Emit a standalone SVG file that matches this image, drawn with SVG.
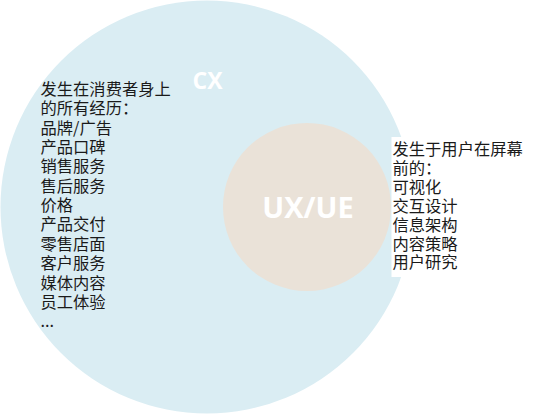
<svg xmlns="http://www.w3.org/2000/svg" width="534" height="414" viewBox="0 0 534 414">
<style>
.lbl{font-family:"Open Sans","Noto Sans",sans-serif;font-weight:700;fill:#ffffff;text-anchor:middle}
.txt{font-family:"Noto Sans CJK SC","Noto Sans",sans-serif;font-size:16.3px;fill:#1a1a1a}
</style>
<rect width="534" height="414" fill="#ffffff"/>
<g id="cx">
<circle cx="207" cy="207" r="206.5" fill="#DAEDF3"/>
<text class="lbl" x="207.5" y="89" font-size="23">CX</text>
</g>
<g id="ux">
<circle cx="307" cy="207" r="84" fill="#EAE2D8"/>
<text class="lbl" x="308" y="218" font-size="29">UX/UE</text>
</g>
<g id="cx-text">
<text class="txt" x="40.5" y="95">
<tspan x="40.5" dy="0">发生在消费者身上</tspan>
<tspan x="40.5" dy="19.35">的所有经历：</tspan>
<tspan x="40.5" dy="19.35">品牌/广告</tspan>
<tspan x="40.5" dy="19.35">产品口碑</tspan>
<tspan x="40.5" dy="19.35">销售服务</tspan>
<tspan x="40.5" dy="19.35">售后服务</tspan>
<tspan x="40.5" dy="19.35">价格</tspan>
<tspan x="40.5" dy="19.35">产品交付</tspan>
<tspan x="40.5" dy="19.35">零售店面</tspan>
<tspan x="40.5" dy="19.35">客户服务</tspan>
<tspan x="40.5" dy="19.35">媒体内容</tspan>
<tspan x="40.5" dy="19.35">员工体验</tspan>
<tspan x="40.5" dy="19.35">...</tspan>
</text>
</g>
<g id="ux-text">
<rect x="391.5" y="137" width="142.5" height="140" fill="#ffffff"/>
<text class="txt" x="392.5" y="155">
<tspan x="392.5" dy="0">发生于用户在屏幕</tspan>
<tspan x="392.5" dy="18.9">前的：</tspan>
<tspan x="392.5" dy="18.9">可视化</tspan>
<tspan x="392.5" dy="18.9">交互设计</tspan>
<tspan x="392.5" dy="18.9">信息架构</tspan>
<tspan x="392.5" dy="18.9">内容策略</tspan>
<tspan x="392.5" dy="18.9">用户研究</tspan>
</text>
</g>
<g id="connectors"/>
</svg>
